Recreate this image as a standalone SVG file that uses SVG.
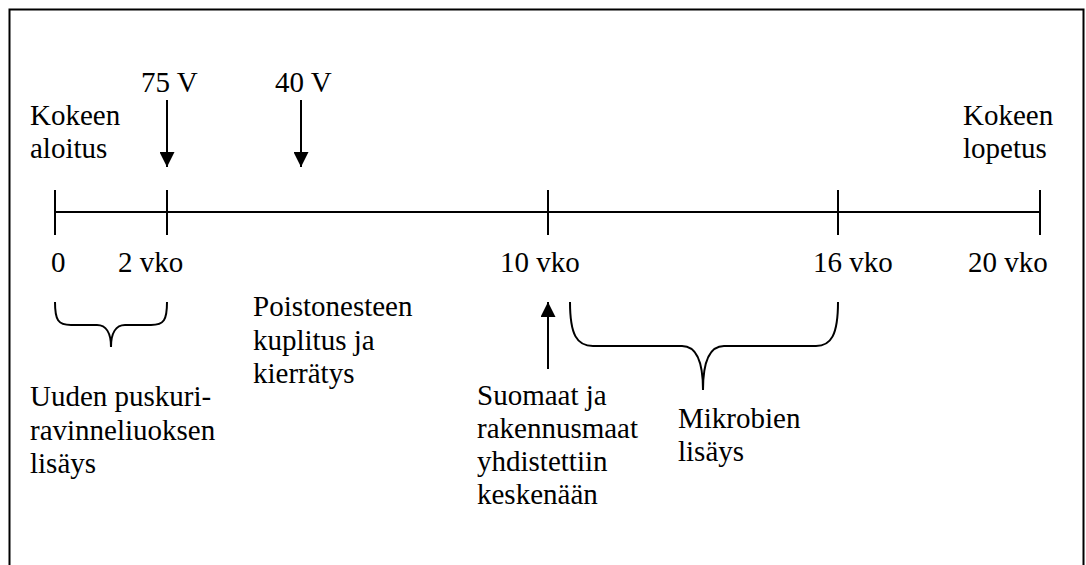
<svg xmlns="http://www.w3.org/2000/svg" width="1086" height="565" viewBox="0 0 1086 565">
  <defs>
    <style>
      .t { font-family: "Liberation Serif", "Times New Roman", serif; font-size: 29px; fill: #000; }
      .ln { stroke: #000; stroke-width: 2; fill: none; }
      .br { stroke: #000; stroke-width: 2; fill: none; }
    </style>
    <marker id="head" viewBox="0 0 10 10" refX="10" refY="5" markerWidth="7.5" markerHeight="7.5" markerUnits="strokeWidth" orient="auto">
      <path d="M0,0 L10,5 L0,10 Z" fill="#000"/>
    </marker>
  </defs>
  <rect width="1086" height="565" fill="#fff"/>

  <!-- frame, open at the bottom -->
  <path id="frame" d="M9.5,565 V9.5 H1083.5 V565" fill="none" stroke="#000" stroke-width="2"/>

  <!-- timeline axis with week ticks -->
  <g id="timeline">
    <line class="ln" x1="55" y1="212" x2="1040" y2="212"/>
    <line class="ln" x1="55" y1="190" x2="55" y2="235"/>
    <line class="ln" x1="167" y1="190" x2="167" y2="235"/>
    <line class="ln" x1="548" y1="190" x2="548" y2="235"/>
    <line class="ln" x1="838" y1="190" x2="838" y2="235"/>
    <line class="ln" x1="1040" y1="190" x2="1040" y2="235"/>
    <text class="t" x="51" y="272">0</text>
    <text class="t" x="118" y="272">2 vko</text>
    <text class="t" x="500" y="272">10 vko</text>
    <text class="t" x="813" y="272">16 vko</text>
    <text class="t" x="968" y="272">20 vko</text>
  </g>

  <g id="start">
    <text class="t" x="30" y="125">Kokeen</text>
    <text class="t" x="30" y="158">aloitus</text>
  </g>

  <g id="end">
    <text class="t" x="963" y="125">Kokeen</text>
    <text class="t" x="963" y="158">lopetus</text>
  </g>

  <g id="v75">
    <text class="t" x="141" y="92">75 V</text>
  </g>

  <g id="v40">
    <text class="t" x="275" y="92">40 V</text>
  </g>

  <g id="buffer">
    <text class="t" x="30" y="406">Uuden puskuri-</text>
    <text class="t" x="30" y="440">ravinneliuoksen</text>
    <text class="t" x="30" y="473">lisäys</text>
  </g>

  <g id="bubbling">
    <text class="t" x="253" y="316">Poistonesteen</text>
    <text class="t" x="253" y="350">kuplitus ja</text>
    <text class="t" x="253" y="383">kierrätys</text>
  </g>

  <g id="soils">
    <text class="t" x="477" y="405">Suomaat ja</text>
    <text class="t" x="477" y="438">rakennusmaat</text>
    <text class="t" x="477" y="471">yhdistettiin</text>
    <text class="t" x="477" y="504">keskenään</text>
  </g>

  <g id="microbes">
    <text class="t" x="678" y="428">Mikrobien</text>
    <text class="t" x="678" y="461">lisäys</text>
  </g>

  <!-- arrows and braces -->
  <g id="connectors">
    <line class="ln" x1="167" y1="100" x2="167" y2="167" marker-end="url(#head)"/>
    <line class="ln" x1="301" y1="100" x2="301" y2="167" marker-end="url(#head)"/>
    <line class="ln" x1="548" y1="369" x2="548" y2="302" marker-end="url(#head)"/>
    <path class="br" d="M55,302 C55,320 58,325 71,325 H97 C106,325 111,333 111,347 C111,333 116,325 125,325 H151 C164,325 167,320 167,302"/>
    <path class="br" d="M570,302 C570,335 577,346 593,346 H682 C696,346 703,362 703,390 C703,362 710,346 724,346 H816 C831,346 838,335 838,302"/>
  </g>
</svg>
